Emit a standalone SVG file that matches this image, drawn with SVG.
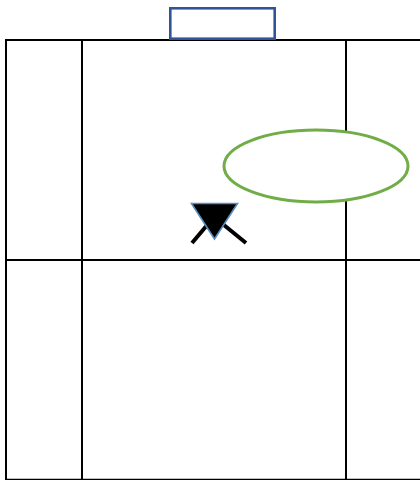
<svg xmlns="http://www.w3.org/2000/svg" width="420" height="480" viewBox="0 0 420 480">
<style>
.g{stroke:#000;stroke-width:2;fill:none}
.x{stroke:#000;stroke-width:4;fill:none}
</style>
<rect width="420" height="480" fill="#fff"/>
<g id="connectors">
<path class="g" d="M5 40H420M6 260H420M6 480V40M82 40V480M346 40V480"/>
<path stroke="#000" stroke-width="1.500" fill="none" d="M5 479.500H420"/>
<path class="x" d="M192 243L219 211M246 243L219 221"/>
</g>
<g id="box"><rect x="170.300" y="8.300" width="104.400" height="30.400" fill="#fff" stroke="#2f5597" stroke-width="2.600"/></g>
<g id="ellipse"><ellipse cx="316" cy="166" rx="92" ry="36" fill="#fff" stroke="#70ad47" stroke-width="3"/></g>
<g id="triangle"><path d="M191.500 203.500H237.500L214.500 239Z" fill="#000" stroke="#5b8bb8" stroke-width="1.600"/></g>
</svg>
